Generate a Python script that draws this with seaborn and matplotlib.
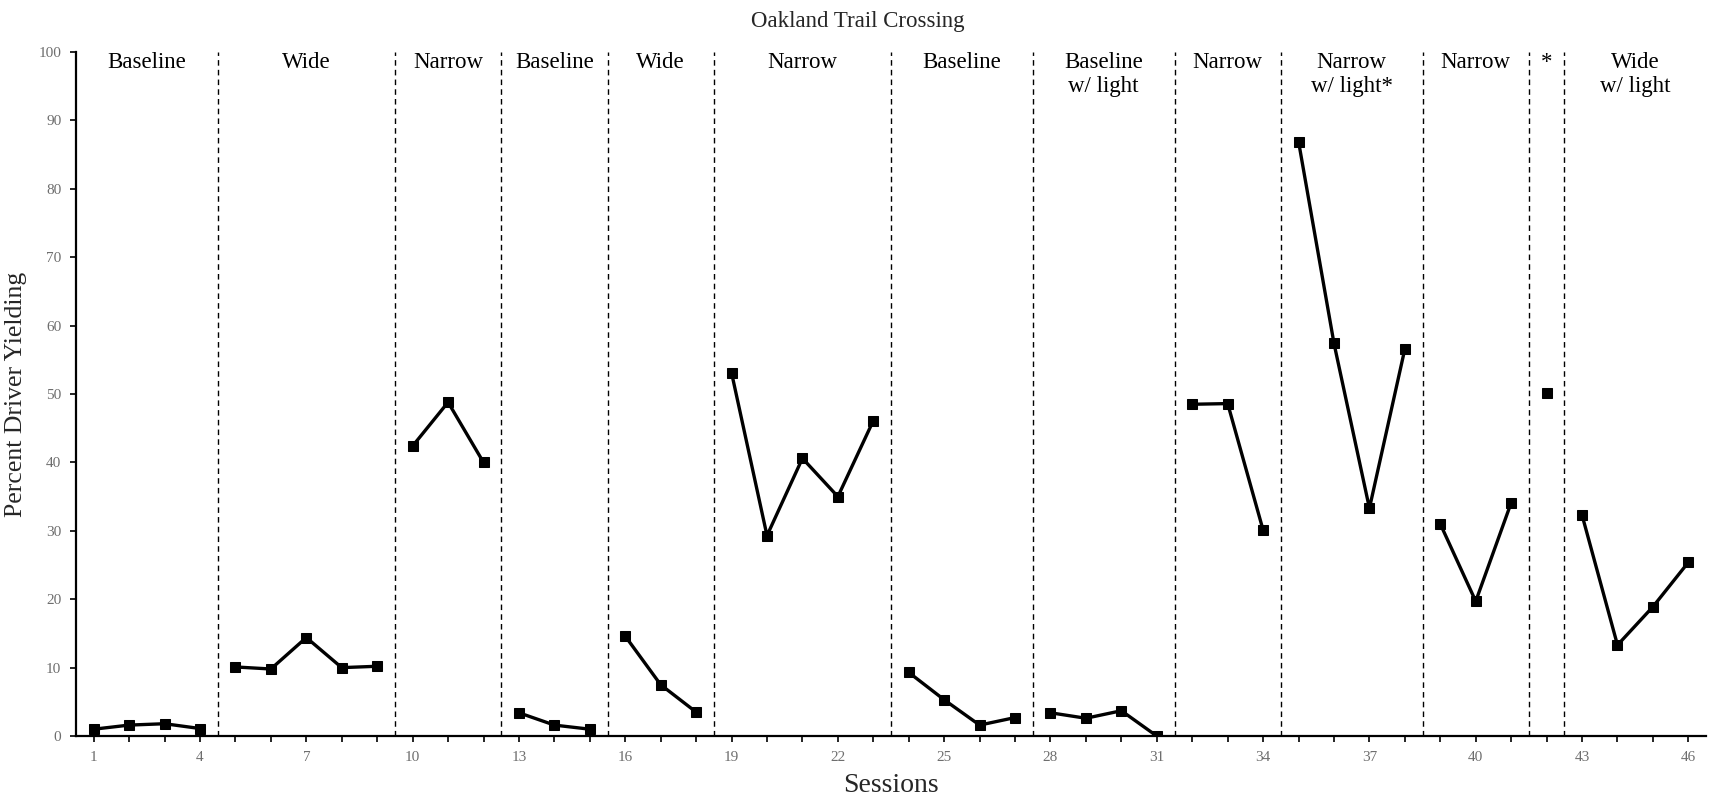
import numpy as np
import pandas as pd
import matplotlib
matplotlib.use("Agg")
import matplotlib.pyplot as plt
import seaborn as sns

# ---- data ----
sessions = list(range(1, 47))
yielding = [1.0, 1.6, 1.8, 1.1,
            10.1, 9.8, 14.4, 10.0, 10.2,
            42.4, 48.8, 40.0,
            3.4, 1.6, 1.0,
            14.6, 7.5, 3.5,
            53.1, 29.3, 40.6, 35.0, 46.1,
            9.3, 5.3, 1.6, 2.7,
            3.4, 2.6, 3.7, 0.0,
            48.5, 48.6, 30.1,
            86.9, 57.4, 33.3, 56.6,
            31.0, 19.7, 34.1,
            50.1,
            32.3, 13.3, 18.9, 25.4]
phase_starts = [1, 5, 10, 13, 16, 19, 24, 28, 32, 35, 39, 42, 43]
phase_labels = ["Baseline", "Wide", "Narrow", "Baseline", "Wide", "Narrow",
                "Baseline", "Baseline\nw/ light", "Narrow", "Narrow\nw/ light*",
                "Narrow", "*", "Wide\nw/ light"]
title = "Oakland Trail Crossing"

# ---- build frame ----
phase_ends = phase_starts[1:] + [sessions[-1] + 1]
phase_id = []
for s in sessions:
    for i, (a, b) in enumerate(zip(phase_starts, phase_ends)):
        if a <= s < b:
            phase_id.append(i)
df = pd.DataFrame({"session": sessions, "value": yielding, "phase": phase_id})

sns.set_theme(style="ticks")
plt.rcParams['font.family'] = ['Liberation Serif', 'DejaVu Serif']

fig = plt.figure(figsize=(17.15, 8.01), dpi=100)
ax = fig.add_axes([0.0443, 0.0811, 0.9505, 0.854])

sns.lineplot(data=df, x="session", y="value", units="phase", estimator=None,
             color="black", lw=2.4, marker="s", markersize=6.8,
             markeredgecolor="black", ax=ax, legend=False)

for a in phase_starts[1:]:
    ax.plot([a - 0.5, a - 0.5], [0, 100], color="black", lw=1.0,
            ls=(0, (4, 3)), zorder=1)

for a, b, lab in zip(phase_starts, phase_ends, phase_labels):
    cx = (a + b - 1) / 2
    ax.text(cx, 100.0, lab, ha="center", va="top", fontsize=16.5,
            linespacing=1.2, color="black")

ax.set_xlim(0.5, 46.5)
ax.set_ylim(0, 100)
ax.set_xticks(sessions)
ax.set_xticklabels([str(s) if (s - 1) % 3 == 0 else "" for s in sessions])
ax.set_yticks(range(0, 101, 10))
ax.tick_params(axis="both", direction="out", length=4.5, width=1.2,
               labelsize=11, labelcolor="#6e6e6e", color="black")
ax.tick_params(axis="x", pad=6)
ax.tick_params(axis="y", pad=6)
for sp in ["top", "right"]:
    ax.spines[sp].set_visible(False)
for sp in ["left", "bottom"]:
    ax.spines[sp].set_color("black")
    ax.spines[sp].set_linewidth(1.6)

ax.set_xlabel("Sessions", fontsize=20, labelpad=7)
ax.set_ylabel("Percent Driver Yielding", fontsize=18.5, labelpad=8)
fig.suptitle(title, fontsize=16.5, y=0.986)

fig.savefig("out.png", dpi=100)
